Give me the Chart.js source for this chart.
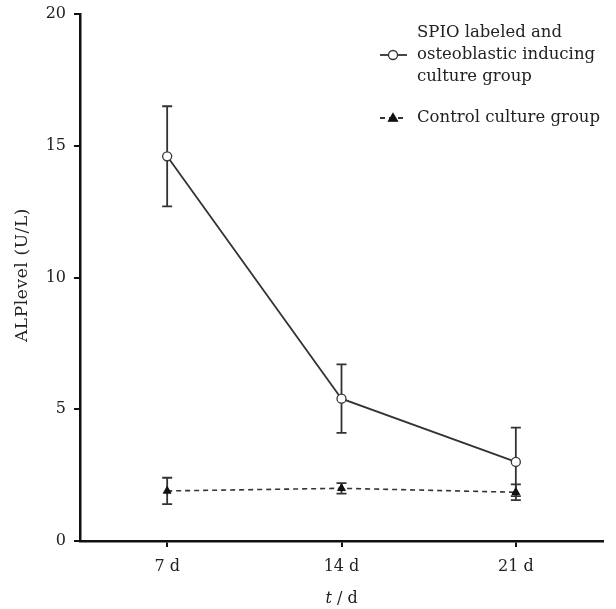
<!DOCTYPE html>
<html>
<head>
<meta charset="utf-8">
<script src="https://cdn.jsdelivr.net/npm/chart.js@4/dist/chart.umd.min.js"></script>
<style>
  html, body { margin: 0; padding: 0; background: #fff; }
  #wrap { width: 616px; height: 609px; }
</style>
</head>
<body>
<div id="wrap"><canvas id="alpChart"></canvas></div>
<script>
const days = ['7 d', '14 d', '21 d'];
const spioMean = [14.6, 5.4, 3.0];
const spioErr = [1.9, 1.3, 1.3];
const controlMean = [1.9, 2.0, 1.85];
const controlErr = [0.5, 0.2, 0.3];
const yTicks = [0, 5, 10, 15, 20];
const legendLabels = [
  ['SPIO labeled and', 'osteoblastic inducing', 'culture group'],
  ['Control culture group']
];

const serif = '"DejaVu Serif", "Liberation Serif", serif';
const ink = '#333';

// error bars, drawn before the points so the markers sit on top
const errorBars = {
  id: 'errorBars',
  beforeDatasetsDraw(chart) {
    const { ctx, scales } = chart;
    const errs = [spioErr, controlErr];
    ctx.save();
    ctx.strokeStyle = ink;
    ctx.lineWidth = 1.8;
    ctx.setLineDash([]);
    chart.data.datasets.forEach((ds, i) => {
      ds.data.forEach((v, j) => {
        const x = scales.x.getPixelForValue(j);
        const top = scales.y.getPixelForValue(v + errs[i][j]);
        const bot = scales.y.getPixelForValue(v - errs[i][j]);
        ctx.beginPath();
        ctx.moveTo(x, top); ctx.lineTo(x, bot);
        ctx.moveTo(x - 5, top); ctx.lineTo(x + 5, top);
        ctx.moveTo(x - 5, bot); ctx.lineTo(x + 5, bot);
        ctx.stroke();
      });
    });
    ctx.restore();
  }
};

// titles and legend
const extras = {
  id: 'extras',
  afterDraw(chart) {
    const { ctx, chartArea } = chart;
    ctx.save();
    ctx.fillStyle = '#222';
    ctx.textBaseline = 'middle';

    // x title: italic t
    const cx = (chartArea.left + chartArea.right) / 2;
    ctx.font = 'italic 16px ' + serif;
    const tW = ctx.measureText('t').width;
    ctx.font = '16px ' + serif;
    const restW = ctx.measureText(' / d').width;
    const x0 = cx - (tW + restW) / 2;
    ctx.font = 'italic 16px ' + serif;
    ctx.textAlign = 'left';
    ctx.fillText('t', x0, 599);
    ctx.font = '16px ' + serif;
    ctx.fillText(' / d', x0 + tW, 599);

    // y title
    ctx.translate(23, 275);
    ctx.rotate(-Math.PI / 2);
    ctx.textAlign = 'center';
    ctx.font = '17px ' + serif;
    ctx.letterSpacing = '0.6px';
    ctx.fillText('ALPlevel (U/L)', 0, 0);
    ctx.letterSpacing = '0px';
    ctx.setTransform(1, 0, 0, 1, 0, 0);

    // legend
    const items = [
      { ds: chart.data.datasets[0], lines: legendLabels[0], y: 33 },
      { ds: chart.data.datasets[1], lines: legendLabels[1], y: 118 }
    ];
    ctx.font = '16.5px ' + serif;
    items.forEach(it => {
      const my = it.lines.length > 1 ? it.y + 22 : it.y;
      ctx.strokeStyle = it.ds.borderColor;
      ctx.lineWidth = 1.8;
      ctx.setLineDash(it.ds.borderDash || []);
      ctx.beginPath();
      ctx.moveTo(380, my); ctx.lineTo(407, my);
      ctx.stroke();
      ctx.setLineDash([]);
      ctx.lineWidth = 1.3;
      ctx.fillStyle = it.ds.pointBackgroundColor;
      ctx.strokeStyle = it.ds.pointBorderColor;
      ctx.beginPath();
      if (it.ds.pointStyle === 'circle') {
        ctx.arc(393, my, it.ds.pointRadius, 0, Math.PI * 2);
      } else {
        const r = it.ds.pointRadius;
        ctx.moveTo(393, my - r);
        ctx.lineTo(393 + r, my + r * 0.7);
        ctx.lineTo(393 - r, my + r * 0.7);
        ctx.closePath();
      }
      ctx.fill(); ctx.stroke();
      ctx.fillStyle = '#222';
      ctx.textAlign = 'left';
      it.lines.forEach((t, k) => ctx.fillText(t, 417, it.y + k * 22));
    });
    ctx.restore();
  }
};

new Chart(document.getElementById('alpChart'), {
  type: 'line',
  data: {
    labels: days,
    datasets: [
      {
        label: legendLabels[0].join(' '),
        data: spioMean,
        borderColor: ink,
        borderWidth: 1.8,
        pointStyle: 'circle',
        pointRadius: 4.5,
        pointBackgroundColor: '#fff',
        pointBorderColor: ink,
        pointBorderWidth: 1.3,
        tension: 0
      },
      {
        label: legendLabels[1][0],
        data: controlMean,
        borderColor: ink,
        borderWidth: 1.6,
        borderDash: [5, 4],
        pointStyle: 'triangle',
        pointRadius: 4.5,
        pointBackgroundColor: '#111',
        pointBorderColor: '#111',
        pointBorderWidth: 1,
        tension: 0
      }
    ]
  },
  options: {
    responsive: true,
    maintainAspectRatio: false,
    animation: false,
    layout: { padding: { left: 0, right: 13, top: 0, bottom: 0 } },
    plugins: { legend: { display: false }, tooltip: { enabled: false } },
    scales: {
      x: {
        offset: true,
        grid: { display: true, offset: false, drawOnChartArea: false, drawTicks: true, tickLength: 6, color: '#111', lineWidth: 2 },
        border: { color: '#111', width: 2.5 },
        ticks: { color: '#222', font: { family: serif, size: 16 }, padding: 10 },
        afterFit(scale) { scale.height = 68; }
      },
      y: {
        min: 0,
        max: 20,
        afterBuildTicks(scale) { scale.ticks = yTicks.map(v => ({ value: v })); },
        grid: { display: true, drawOnChartArea: false, drawTicks: true, tickLength: 6, color: '#111', lineWidth: 2 },
        border: { color: '#111', width: 2.5 },
        ticks: { color: '#222', font: { family: serif, size: 16 }, padding: 8 },
        afterFit(scale) { scale.width = 80; scale.paddingTop = 14; }
      }
    }
  },
  plugins: [errorBars, extras]
});
</script>
</body>
</html>
